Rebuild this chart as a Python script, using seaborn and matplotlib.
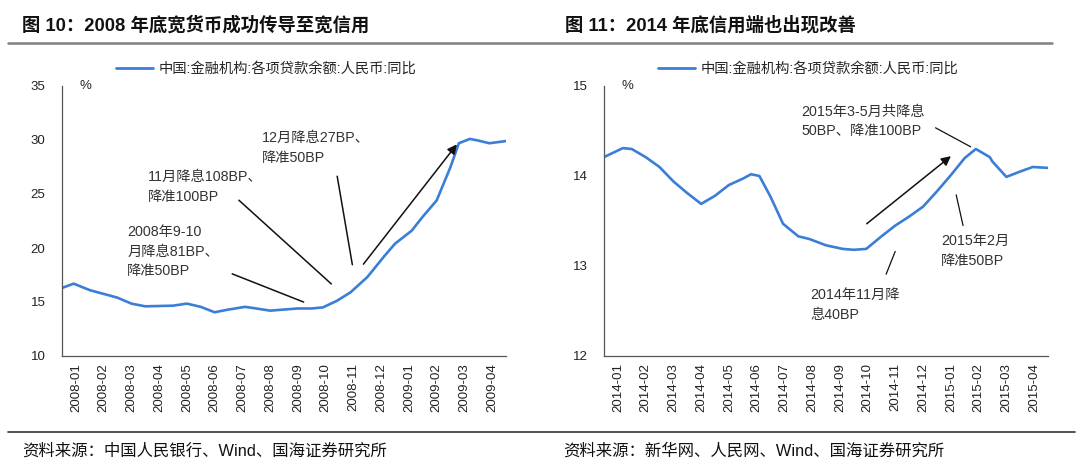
import matplotlib
matplotlib.use("Agg")
import matplotlib.pyplot as plt
import seaborn as sns
import pandas as pd
from matplotlib.lines import Line2D

sns.set_theme(style="white")
FONT = ['Liberation Sans', 'Noto Sans CJK SC', 'DejaVu Sans']
plt.rcParams['font.family'] = FONT
plt.rcParams['axes.unicode_minus'] = False

# ---------------- data ----------------
months_2008 = ["2008-01", "2008-02", "2008-03", "2008-04", "2008-05", "2008-06", "2008-07", "2008-08",
               "2008-09", "2008-10", "2008-11", "2008-12", "2009-01", "2009-02", "2009-03", "2009-04"]
pos_2008 = [0, 0.42, 1.0, 2.0, 2.5, 3.0, 4.0, 4.5, 5.0, 5.5, 6.0, 6.6, 7.0, 7.5, 8.0, 8.5, 9.0, 9.4,
            9.9, 10.4, 11.0, 11.6, 12.0, 12.6, 13.0, 13.5, 14.0, 14.3, 14.7, 15.0, 15.4, 16.0]
loan_2008 = [16.3, 16.7, 16.1, 15.4, 14.85, 14.6, 14.66, 14.85, 14.55, 14.05, 14.3, 14.55, 14.4, 14.2,
             14.3, 14.4, 14.4, 14.5, 15.1, 15.9, 17.3, 19.2, 20.4, 21.6, 22.9, 24.4, 27.5, 29.7,
             30.1, 29.95, 29.7, 29.9]

months_2014 = ["2014-01", "2014-02", "2014-03", "2014-04", "2014-05", "2014-06", "2014-07", "2014-08",
               "2014-09", "2014-10", "2014-11", "2014-12", "2015-01", "2015-02", "2015-03", "2015-04"]
pos_2014 = [0, 0.68, 1.0, 1.5, 2.0, 2.5, 3.0, 3.5, 4.0, 4.5, 5.0, 5.3, 5.6, 6.0, 6.45, 7.0, 7.4, 8.0,
            8.6, 9.0, 9.45, 10.0, 10.5, 11.0, 11.5, 12.0, 12.5, 13.0, 13.4, 13.9, 14.0, 14.5, 15.0,
            15.45, 16.0]
loan_2014 = [14.21, 14.31, 14.30, 14.21, 14.10, 13.94, 13.81, 13.69, 13.78, 13.90, 13.97, 14.02, 14.00,
             13.77, 13.47, 13.33, 13.30, 13.23, 13.19, 13.18, 13.19, 13.33, 13.45, 13.55, 13.66, 13.83,
             14.01, 14.20, 14.30, 14.21, 14.16, 13.99, 14.05, 14.10, 14.09]

series_label = "中国:金融机构:各项贷款余额:人民币:同比"
title_left = "图 10：2008 年底宽货币成功传导至宽信用"
title_right = "图 11：2014 年底信用端也出现改善"
source_left = "资料来源：中国人民银行、Wind、国海证券研究所"
source_right = "资料来源：新华网、人民网、Wind、国海证券研究所"

LINE_COLOR = "#3a7fd5"
W, H = 1080, 471
fig = plt.figure(figsize=(W / 100, H / 100), dpi=100)


def px_axes(x0, x1, y_top, y_bot):
    return fig.add_axes([x0 / W, 1 - y_bot / H, (x1 - x0) / W, (y_bot - y_top) / H])


def style_axes(ax, months, ylim, yticks):
    ax.set_xlim(0, len(months))
    ax.set_ylim(*ylim)
    ax.set_yticks(yticks)
    ax.set_yticklabels([str(t) for t in yticks], fontsize=9.5, color="#222222")
    ax.set_xticks([i for i in range(len(months) + 1)])
    ax.set_xticklabels([""] * (len(months) + 1))
    ax.set_xticks([i + 0.5 for i in range(len(months))], minor=True)
    ax.set_xticklabels(months, minor=True, rotation=90, fontsize=9.5, color="#222222")
    ax.tick_params(axis="x", which="major", direction="in", length=4, width=0.8, color="#555555")
    ax.tick_params(axis="x", which="minor", length=0, pad=5)
    ax.tick_params(axis="y", direction="in", length=4, width=0.8, color="#555555", pad=12)
    for s in ["top", "right"]:
        ax.spines[s].set_visible(False)
    for s in ["left", "bottom"]:
        ax.spines[s].set_color("#555555")
        ax.spines[s].set_linewidth(0.9)
    ax.set_xlabel("")
    ax.set_ylabel("")
    ax.grid(False)
    ax.text(0.04, 1.0, "%", transform=ax.transAxes, fontsize=9.5, va="center", ha="left")


def legend_line(ax):
    leg = ax.legend(handles=[Line2D([0], [0], color=LINE_COLOR, lw=2)], labels=[series_label],
                    loc="lower center", bbox_to_anchor=(0.46, 1.0), frameon=False,
                    prop={"family": FONT, "size": 10.3}, handlelength=2.6, handletextpad=0.4,
                    borderaxespad=0.3)
    return leg


# ---------------- left chart ----------------
axL = px_axes(62, 506, 86, 356)
dfL = pd.DataFrame({"x": pos_2008, "y": loan_2008})
sns.lineplot(data=dfL, x="x", y="y", ax=axL, color=LINE_COLOR, linewidth=1.9)
style_axes(axL, months_2008, (10, 35), [10, 15, 20, 25, 30, 35])
legend_line(axL)

ann_kw = dict(fontsize=10.3, color="#333333", linespacing=1.5)
axL.text(2.35, 17.2, "2008年9-10\n月降息81BP、\n降准50BP", ha="left", va="bottom", **ann_kw)
axL.annotate("", xy=(8.8, 14.9), xytext=(6.04, 17.7),
             arrowprops=dict(arrowstyle="-", color="#111111", lw=1.1))
axL.text(3.1, 24.1, "11月降息108BP、\n降准100BP", ha="left", va="bottom", **ann_kw)
axL.annotate("", xy=(9.78, 16.5), xytext=(6.3, 24.6),
             arrowprops=dict(arrowstyle="-", color="#111111", lw=1.1))
axL.text(7.2, 27.7, "12月降息27BP、\n降准50BP", ha="left", va="bottom", **ann_kw)
axL.annotate("", xy=(10.48, 18.2), xytext=(9.9, 26.9),
             arrowprops=dict(arrowstyle="-", color="#111111", lw=1.1))
axL.annotate("", xy=(14.29, 29.8), xytext=(10.8, 18.3),
             arrowprops=dict(arrowstyle="-|>", color="#111111", lw=1.1, mutation_scale=14))

# ---------------- right chart ----------------
axR = px_axes(604, 1048, 86, 356)
dfR = pd.DataFrame({"x": pos_2014, "y": loan_2014})
sns.lineplot(data=dfR, x="x", y="y", ax=axR, color=LINE_COLOR, linewidth=1.9)
style_axes(axR, months_2014, (12, 15), [12, 13, 14, 15])
legend_line(axR)

axR.text(7.1, 14.42, "2015年3-5月共降息\n50BP、降准100BP", ha="left", va="bottom", **ann_kw)
axR.annotate("", xy=(13.3, 14.31), xytext=(11.86, 14.55),
             arrowprops=dict(arrowstyle="-", color="#111111", lw=0.9))
axR.annotate("", xy=(12.58, 14.24), xytext=(9.39, 13.45),
             arrowprops=dict(arrowstyle="-|>", color="#111111", lw=1.1, mutation_scale=14))
axR.text(12.15, 12.98, "2015年2月\n降准50BP", ha="left", va="bottom", **ann_kw)
axR.annotate("", xy=(12.67, 13.82), xytext=(12.96, 13.42),
             arrowprops=dict(arrowstyle="-", color="#111111", lw=0.9))
axR.text(7.45, 12.38, "2014年11月降\n息40BP", ha="left", va="bottom", **ann_kw)
axR.annotate("", xy=(10.53, 13.19), xytext=(10.13, 12.88),
             arrowprops=dict(arrowstyle="-", color="#111111", lw=0.9))

# ---------------- titles, rules, sources ----------------
fig.text(22 / W, 1 - 25 / H, title_left, fontsize=13.2, fontweight="bold", va="center", ha="left",
         color="#111111")
fig.text(565 / W, 1 - 25 / H, title_right, fontsize=13.2, fontweight="bold", va="center", ha="left",
         color="#111111")
fig.add_artist(Line2D([8 / W, 1052 / W], [1 - 43 / H, 1 - 43 / H], color="#808080", lw=1.8))
fig.add_artist(Line2D([8 / W, 1075 / W], [1 - 432 / H, 1 - 432 / H], color="#333333", lw=1.2))
fig.text(22 / W, 1 - 451 / H, source_left, fontsize=11.8, va="center", ha="left", color="#111111")
fig.text(563 / W, 1 - 451 / H, source_right, fontsize=11.8, va="center", ha="left", color="#111111")

fig.savefig("out.png", dpi=100, facecolor="white")
